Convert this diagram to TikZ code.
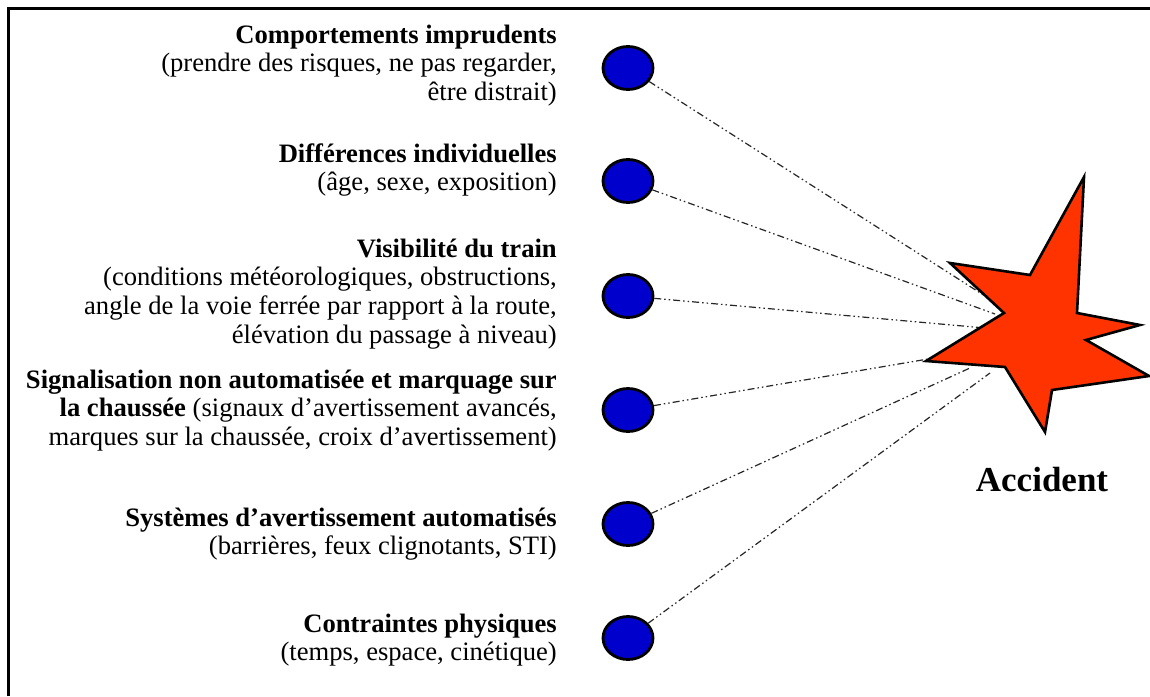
\documentclass[tikz,border=0pt]{standalone}
\usepackage{fontspec}
\setmainfont{Liberation Serif}
\usetikzlibrary{shapes.geometric}
\definecolor{dotblue}{RGB}{0,0,204}
\definecolor{starred}{RGB}{255,51,0}
\tikzset{
  dot/.style={ellipse, draw=black, line width=2.8pt, fill=dotblue, minimum width=50pt, minimum height=43pt, inner sep=0pt},
  link/.style={line width=1.2pt, black!85, dash pattern=on 7pt off 3pt on 1.5pt off 3pt on 1.5pt off 3pt},
  label/.style={anchor=base east, inner sep=0pt, font=\fontsize{26.6}{28.7}\selectfont},
}
\newcommand{\blk}[1]{\begin{tabular}[t]{@{}r@{}}#1\end{tabular}}
\begin{document}
\begin{tikzpicture}[x=1pt,y=-1pt]
\useasboundingbox (0,0) rectangle (1150,696);
% frame
\draw[line width=3pt] (8.5,696) -- (8.5,8.5) -- (1150,8.5);
% labels
\node[label] (t1) at (557,43) {\blk{\textbf{Comportements imprudents}\\(prendre des risques, ne pas regarder,\\être distrait)}};
\node[label] (t2) at (557,162) {\blk{\textbf{Différences individuelles}\\(âge, sexe, exposition)}};
\node[label] (t3) at (557,257) {\blk{\textbf{Visibilité du train}\\(conditions météorologiques, obstructions,\\angle de la voie ferrée par rapport à la route,\\élévation du passage à niveau)}};
\node[label] (t4) at (557,388) {\blk{\textbf{Signalisation non automatisée et marquage sur}\\\textbf{la chaussée} (signaux d’avertissement avancés,\\marques sur la chaussée, croix d’avertissement)}};
\node[label] (t5) at (557,526) {\blk{\textbf{Systèmes d’avertissement automatisés}\\(barrières, feux clignotants, STI)}};
\node[label] (t6) at (557,632) {\blk{\textbf{Contraintes physiques}\\(temps, espace, cinétique)}};
% dots
\node[dot] (c1) at (628,68) {};
\node[dot] (c2) at (628,181) {};
\node[dot] (c3) at (628,296) {};
\node[dot] (c4) at (628,410) {};
\node[dot] (c5) at (628,524) {};
\node[dot] (c6) at (628,638) {};
% line ends
\coordinate (e1) at (985,296);
\coordinate (e2) at (995,314);
\coordinate (e3) at (985,328);
\coordinate (e4) at (928,359);
\coordinate (e5) at (970,368);
\coordinate (e6) at (990,373);
\draw[link] (c1) -- (e1);
\draw[link] (c2) -- (e2);
\draw[link] (c3) -- (e3);
\draw[link] (c4) -- (e4);
\draw[link] (c5) -- (e5);
\draw[link] (c6) -- (e6);
% star
\draw[line width=2.6pt, fill=starred, line join=miter]
  (1084,177) -- (1077,313) -- (1140,325) -- (1086,340) -- (1149,376) -- (1052,390)
  -- (1045,432) -- (1005,367) -- (926,361) -- (1004,313) -- (950,263) -- (1030,275) -- cycle;
\node[inner sep=0pt, anchor=base, font=\fontsize{35}{40}\selectfont\bfseries] (acc) at (1042,491) {Accident};
\end{tikzpicture}
\end{document}
